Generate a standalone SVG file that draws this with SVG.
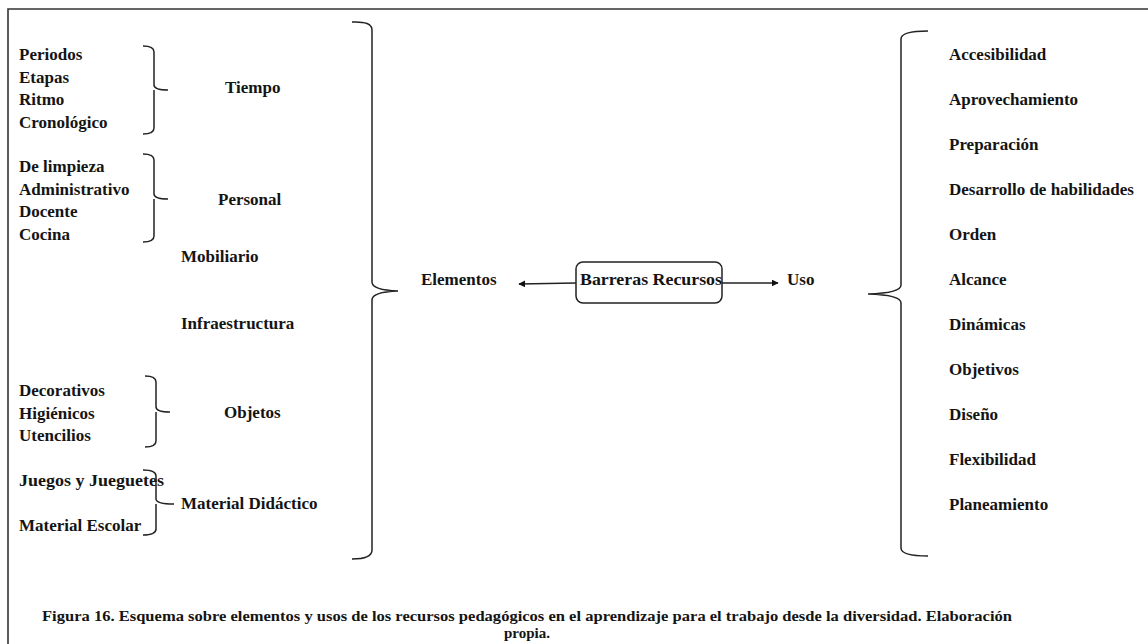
<svg xmlns="http://www.w3.org/2000/svg" width="1148" height="644" viewBox="0 0 1148 644">
  <style>
    .t { font-family: "Liberation Serif", "Times New Roman", serif; font-weight: bold; font-size: 17px; fill: #141414; }
    .cap { font-family: "Liberation Serif", "Times New Roman", serif; font-weight: bold; font-size: 15px; fill: #141414; }
    .br { fill: none; stroke: #222; stroke-width: 1.5; }
    .frame { fill: none; stroke: #333; stroke-width: 1.6; }
    .ar { fill: none; stroke: #222; stroke-width: 1.5; }
  </style>
  <defs>
    <marker id="head" viewBox="0 0 10 10" refX="9" refY="5" markerWidth="7" markerHeight="7" markerUnits="userSpaceOnUse" orient="auto">
      <path d="M0,0 L10,5 L0,10 z" fill="#111"/>
    </marker>
  </defs>

  <rect width="1148" height="644" fill="#fff"/>
  <!-- outer frame (continues past the right and bottom edges) -->
  <path class="frame" d="M8,644 V9 H1148"/>

  <!-- left column: Tiempo -->
  <g id="tiempo">
    <text class="t" x="19" y="60">Periodos</text>
    <text class="t" x="19" y="82.5">Etapas</text>
    <text class="t" x="19" y="105">Ritmo</text>
    <text class="t" x="19" y="127.5">Cronológico</text>
    <path class="br" d="M143,46 Q154,46 154,52 V85 Q154,90 168,90 M154,90 Q154,95 154,96 V128 Q154,134 143,134"/>
    <text class="t" x="225" y="93">Tiempo</text>
  </g>

  <!-- Personal -->
  <g id="personal">
    <text class="t" x="19" y="172">De limpieza</text>
    <text class="t" x="19" y="194.5">Administrativo</text>
    <text class="t" x="19" y="217">Docente</text>
    <text class="t" x="19" y="239.5">Cocina</text>
    <path class="br" d="M143,154 Q154,154 154,160 V194 Q154,199 168,199 M154,199 V236 Q154,242 143,242"/>
    <text class="t" x="218" y="205">Personal</text>
  </g>

  <g id="mobiliario">
    <text class="t" x="181" y="262">Mobiliario</text>
  </g>

  <g id="infraestructura">
    <text class="t" x="181" y="329">Infraestructura</text>
  </g>

  <!-- Objetos -->
  <g id="objetos">
    <text class="t" x="19" y="396">Decorativos</text>
    <text class="t" x="19" y="418.5">Higiénicos</text>
    <text class="t" x="19" y="441">Utencilios</text>
    <path class="br" d="M145,376 Q156,376 156,382 V407 Q156,412 170,412 M156,412 V441 Q156,447 145,447"/>
    <text class="t" x="224" y="418">Objetos</text>
  </g>

  <!-- Material Didáctico -->
  <g id="material-didactico">
    <text class="t" x="19" y="486" textLength="145" lengthAdjust="spacingAndGlyphs">Juegos y Jueguetes</text>
    <text class="t" x="19" y="531">Material Escolar</text>
    <path class="br" d="M143,470 Q156,470 156,476 V499 Q156,504 174,504 M156,504 V529 Q156,535 143,535"/>
    <text class="t" x="181" y="509">Material Didáctico</text>
  </g>

  <!-- large grouping braces -->
  <g id="brace-elementos">
    <path class="br" d="M352,22 Q372,21 372,30 V282 Q372,290 398,291 Q372,292 372,300 V550 Q372,559 352,559"/>
  </g>
  <g id="brace-uso">
    <path class="br" d="M928,31 Q901,31 901,39 V285 Q901,293 868,294 Q901,295 901,303 V548 Q901,556 928,556"/>
  </g>

  <!-- centre -->
  <g id="elementos">
    <text class="t" x="421" y="285">Elementos</text>
  </g>
  <g id="barreras-recursos">
    <rect x="576" y="262" width="146" height="41" rx="7" fill="none" stroke="#222" stroke-width="1.5"/>
    <text class="t" x="580" y="285" textLength="142" lengthAdjust="spacingAndGlyphs">Barreras Recursos</text>
  </g>
  <g id="uso">
    <text class="t" x="787" y="285">Uso</text>
  </g>

  <g id="connectors">
    <line class="ar" x1="576" y1="283" x2="519" y2="284" marker-end="url(#head)"/>
    <line class="ar" x1="722" y1="283" x2="778" y2="283" marker-end="url(#head)"/>
  </g>

  <!-- right column: usos -->
  <g id="usos">
    <text class="t" x="949" y="60">Accesibilidad</text>
    <text class="t" x="949" y="105">Aprovechamiento</text>
    <text class="t" x="949" y="150">Preparación</text>
    <text class="t" x="949" y="195">Desarrollo de habilidades</text>
    <text class="t" x="949" y="240">Orden</text>
    <text class="t" x="949" y="285">Alcance</text>
    <text class="t" x="949" y="330">Dinámicas</text>
    <text class="t" x="949" y="375">Objetivos</text>
    <text class="t" x="949" y="420">Diseño</text>
    <text class="t" x="949" y="465">Flexibilidad</text>
    <text class="t" x="949" y="510">Planeamiento</text>
  </g>

  <!-- caption -->
  <g id="caption">
    <text class="cap" x="42" y="621" textLength="970" lengthAdjust="spacingAndGlyphs">Figura 16. Esquema sobre elementos y usos de los recursos pedagógicos en el aprendizaje para el trabajo desde la diversidad. Elaboración</text>
    <text class="cap" x="527" y="638" text-anchor="middle">propia.</text>
  </g>
</svg>
